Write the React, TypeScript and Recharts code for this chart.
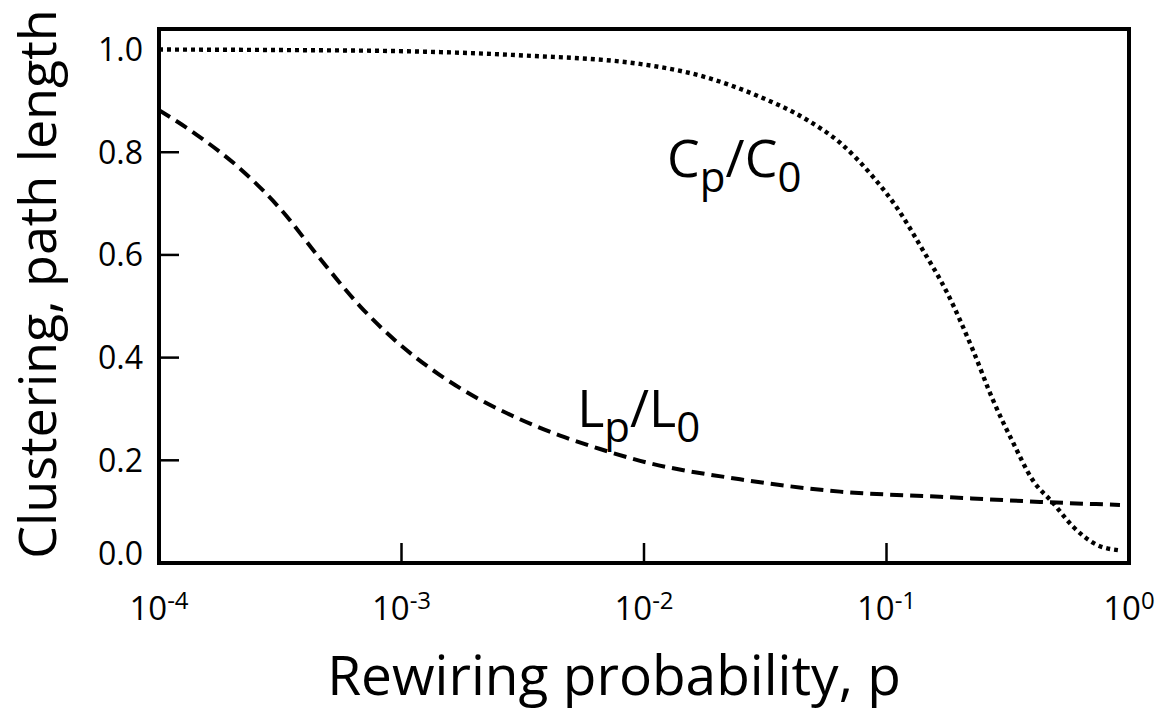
import React from 'react';
import { LineChart, Line, XAxis, YAxis, ReferenceArea, ReferenceDot } from 'recharts';

const FONT = '"Open Sans", "DejaVu Sans", sans-serif';

// x ticks (rewiring probability, log scale) and their exponent labels
const xTicks = [1e-4, 1e-3, 1e-2, 1e-1, 1];
const xTickExponents = ['-4', '-3', '-2', '-1', '0'];
const yTicks = [0, 0.2, 0.4, 0.6, 0.8, 1.0];

// C(p)/C(0), dotted curve
const clusteringP = [
  0.0001, 0.000316, 0.00095, 0.003, 0.0096, 0.018, 0.029, 0.047, 0.0645, 0.088, 0.11,
  0.141, 0.178, 0.227, 0.275, 0.333, 0.4, 0.486, 0.59, 0.74, 0.9,
];
const clusteringValues = [
  1.0, 0.999, 0.997, 0.989, 0.972, 0.946, 0.911, 0.863, 0.818, 0.752, 0.693,
  0.61, 0.526, 0.415, 0.317, 0.234, 0.162, 0.117, 0.07, 0.035, 0.025,
];

// L(p)/L(0), dashed curve
const pathP = [
  0.0001, 0.000144, 0.000216, 0.000316, 0.000461, 0.000675, 0.00096, 0.00144, 0.00211,
  0.00308, 0.00451, 0.00659, 0.00964, 0.0249, 0.0643, 0.166, 0.43, 0.918,
];
const pathValues = [
  0.882, 0.833, 0.768, 0.69, 0.593, 0.5, 0.43, 0.366, 0.318,
  0.28, 0.248, 0.222, 0.199, 0.163, 0.139, 0.129, 0.119, 0.113,
];

// curve labels, anchored in data space (left end of text baseline)
const curveLabels = [
  { p: 0.01245, v: 0.752, main: 'C' },
  { p: 0.0053, v: 0.265, main: 'L' },
];

const clusteringData = clusteringP.map((p, i) => ({ p, v: clusteringValues[i] }));
const pathData = pathP.map((p, i) => ({ p, v: pathValues[i] }));

const XTick = ({ x, y, payload }: any) => {
  const idx = xTicks.indexOf(payload.value);
  const inner = idx > 0 && idx < xTicks.length - 1;
  return (
    <g>
      {inner && <line x1={x} y1={y} x2={x} y2={y - 20} stroke="#000" strokeWidth={2.5} />}
      <text x={x} y={y + 57} textAnchor="middle" fontFamily={FONT} fontSize={33} fill="#000">
        10
        <tspan dy={-11} fontSize={24}>{xTickExponents[idx]}</tspan>
      </text>
    </g>
  );
};

const YTick = ({ x, y, payload }: any) => {
  const v = payload.value;
  const inner = v > 0 && v < 1;
  return (
    <g>
      {inner && <line x1={x + 16} y1={y} x2={x + 36} y2={y} stroke="#000" strokeWidth={2.5} />}
      <text
        x={x}
        y={v === 0 ? y - 10 : y}
        dy="0.36em"
        textAnchor="end"
        fontFamily={FONT}
        fontSize={32}
        fill="#000"
      >
        {v.toFixed(1)}
      </text>
    </g>
  );
};

const CurveLabel = (main: string) => (props: any) => {
  const { x, y } = props.viewBox;
  return (
    <text x={x} y={y} fontFamily={FONT} fontSize={52} fill="#000">
      {main}
      <tspan dy={15} fontSize={42}>p</tspan>
      <tspan dy={-15} fontSize={52}>/{main}</tspan>
      <tspan dy={15} fontSize={42}>0</tspan>
    </text>
  );
};

export default function App() {
  return (
    <div style={{ position: 'absolute', left: 0, top: 0, background: '#fff' }}>
      <LineChart width={1159} height={713} margin={{ top: 29, right: 30, left: 0, bottom: 0 }}>
        <XAxis
          dataKey="p"
          type="number"
          scale="log"
          domain={[1e-4, 1]}
          allowDataOverflow
          ticks={xTicks}
          interval={0}
          height={150}
          axisLine={false}
          tickLine={false}
          tickSize={0}
          tickMargin={0}
          tick={<XTick />}
          label={(props: any) => {
            const vb = props.viewBox;
            return (
              <text
                x={vb.x + vb.width / 2 - 30}
                y={vb.y + 132}
                textAnchor="middle"
                fontFamily={FONT}
                fontSize={55}
                fill="#000"
              >
                Rewiring probability, p
              </text>
            );
          }}
        />
        <YAxis
          type="number"
          domain={[0, 1.04]}
          ticks={yTicks}
          interval={0}
          width={159}
          axisLine={false}
          tickLine={false}
          tickSize={0}
          tickMargin={16}
          tick={<YTick />}
          label={(props: any) => {
            const vb = props.viewBox;
            return (
              <text
                transform={`translate(${vb.x + 56}, ${vb.y + vb.height / 2 - 12}) rotate(-90)`}
                textAnchor="middle"
                fontFamily={FONT}
                fontSize={52}
                fill="#000"
              >
                Clustering, path length
              </text>
            );
          }}
        />
        <ReferenceArea
          x1={1e-4}
          x2={1}
          y1={0}
          y2={1.04}
          fill="none"
          stroke="#000"
          strokeWidth={4}
          ifOverflow="visible"
        />
        <Line
          data={clusteringData}
          dataKey="v"
          type="monotone"
          stroke="#000"
          strokeWidth={4.4}
          strokeDasharray="4 4"
          dot={false}
          activeDot={false}
          isAnimationActive={false}
        />
        <Line
          data={pathData}
          dataKey="v"
          type="monotone"
          stroke="#000"
          strokeWidth={4}
          strokeDasharray="13 7"
          dot={false}
          activeDot={false}
          isAnimationActive={false}
        />
        {curveLabels.map((c) => (
          <ReferenceDot
            key={c.main}
            x={c.p}
            y={c.v}
            r={0}
            fill="none"
            stroke="none"
            ifOverflow="visible"
            label={CurveLabel(c.main)}
          />
        ))}
      </LineChart>
    </div>
  );
}
